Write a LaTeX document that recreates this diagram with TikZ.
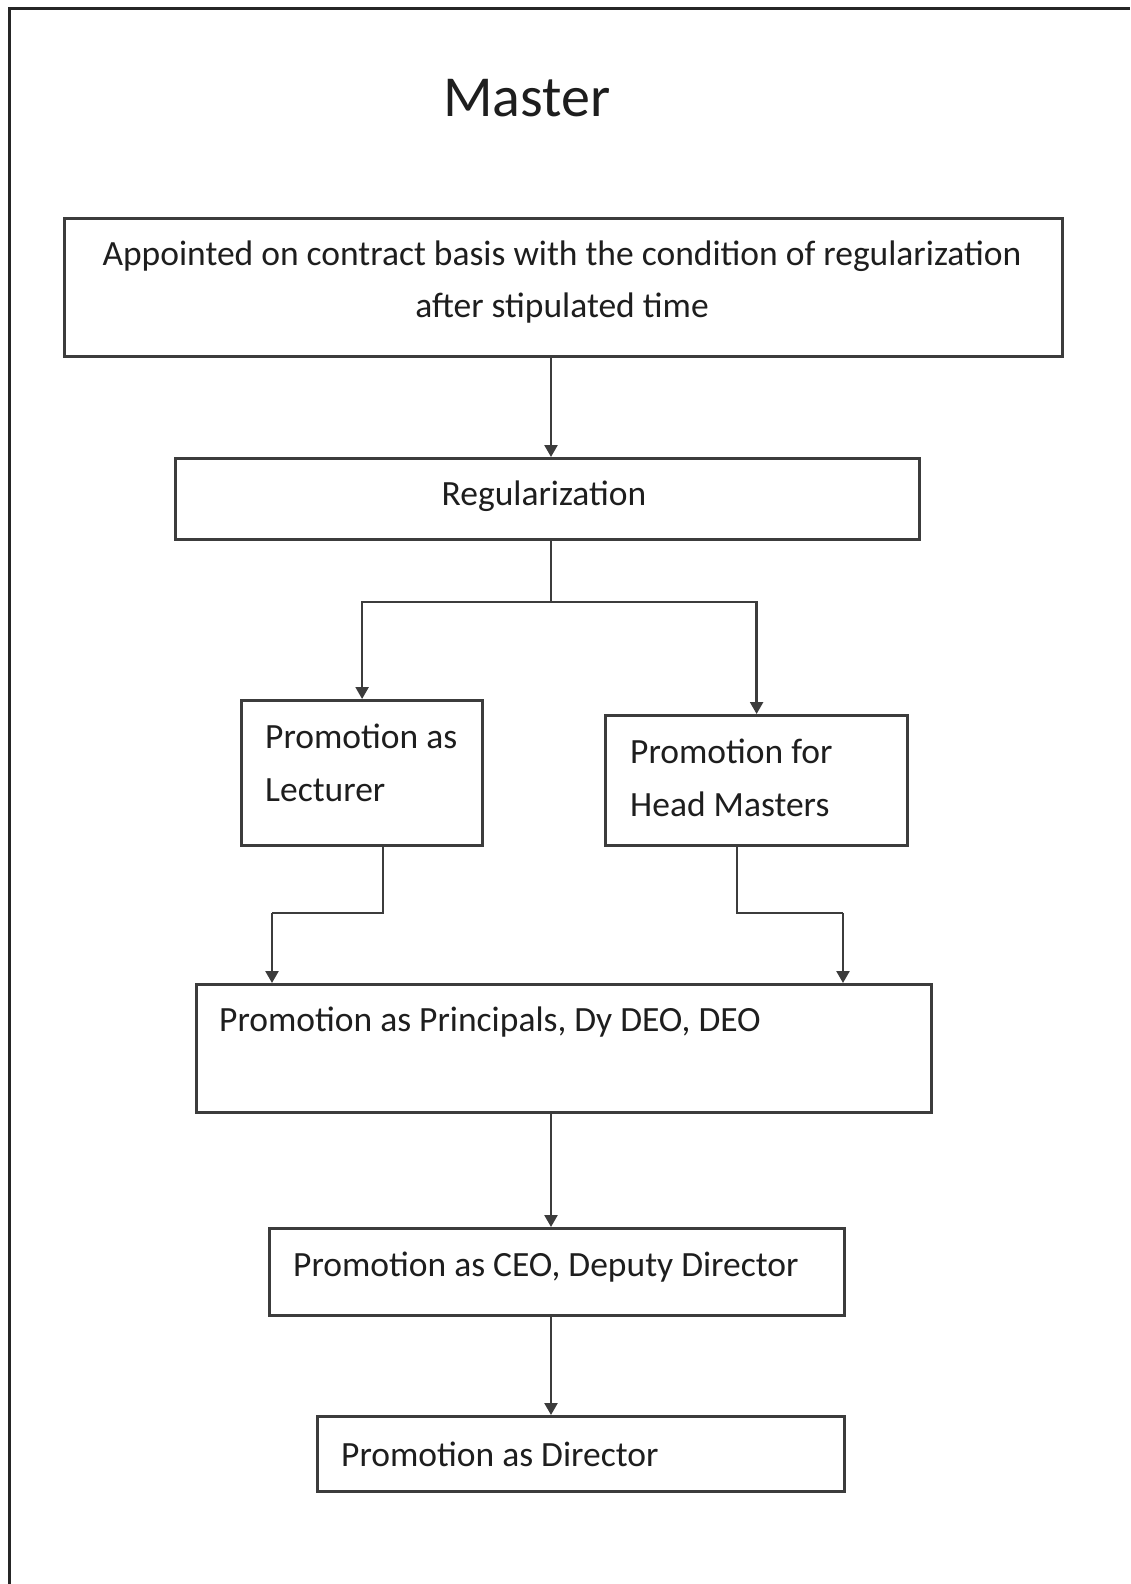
\documentclass[tikz,border=0pt]{standalone}
\usepackage{fontspec}
\setmainfont{Carlito}
\usetikzlibrary{arrows.meta}
\definecolor{boxline}{HTML}{3C3C3C}
\definecolor{txt}{HTML}{1E1E1E}
\tikzset{
  box/.style={draw=boxline, line width=3.2pt, fill=white, anchor=north west, inner sep=0pt},
  lbl/.style={font=\fontsize{35.5}{52.5}\selectfont, text=txt, inner sep=0pt},
  conn/.style={draw=boxline, line width=2.4pt},
  arr/.style={conn, -{Triangle[length=12pt,width=13pt]}},
}
\begin{document}
\begin{tikzpicture}[x=1pt,y=-1pt]
\useasboundingbox (0,0) rectangle (1130,1584);
\fill[white] (0,0) rectangle (1130,1584);
% outer frame (left and top edges only)
\coordinate (fl) at (9,1584);
\coordinate (fc) at (9,9);
\coordinate (fr) at (1130,9);
\draw[black!85, line width=3pt] (fl) -- (fc) -- (fr);

\node[font=\fontsize{58}{62}\selectfont, text=txt, inner sep=0pt] (title) at (527,98) {Master};

% boxes
\node[box, minimum width=998pt, minimum height=138pt] (b1) at (63,217) {};
\node[box, minimum width=744pt, minimum height=81pt]  (b2) at (174,457) {};
\node[box, minimum width=241pt, minimum height=145pt] (b3) at (240,699) {};
\node[box, minimum width=302pt, minimum height=130pt] (b4) at (604,714) {};
\node[box, minimum width=735pt, minimum height=128pt] (b5) at (195,983) {};
\node[box, minimum width=575pt, minimum height=87pt]  (b6) at (268,1227) {};
\node[box, minimum width=527pt, minimum height=75pt]  (b7) at (316,1415) {};

% texts
\node[lbl, align=center] (t1) at (562,282) {Appointed on contract basis with the condition of regularization\\after stipulated time};
\node[lbl] (t2) at (544,496) {Regularization};
\node[lbl, align=left, anchor=west] (t3) at (265,763) {Promotion as\\Lecturer};
\node[lbl, align=left, anchor=west] (t4) at (630,778) {Promotion for\\Head Masters};
\node[lbl, anchor=west] (t5) at (219,1022) {Promotion as Principals, Dy DEO, DEO};
\node[lbl, anchor=west] (t6) at (293,1267) {Promotion as CEO, Deputy Director};
\node[lbl, anchor=west] (t7) at (341,1454) {Promotion as Director};

% connectors
\coordinate (axis) at (551,0);
\coordinate (split) at (551,602);
\coordinate (l1) at (383,913);
\coordinate (l2) at (272,913);
\coordinate (h1) at (737,913);
\coordinate (h2) at (843,913);

\draw[arr] (b1.south -| axis) -- (b2.north -| axis);
\draw[conn] (b2.south -| axis) -- (split);
\draw[arr] (split) -| (b3.north);
\draw[arr] (split) -| (b4.north);
\draw[conn] (b3.south -| l1) -- (l1) -- (l2);
\draw[arr] (l2) -- (b5.north -| l2);
\draw[conn] (b4.south -| h1) -- (h1) -- (h2);
\draw[arr] (h2) -- (b5.north -| h2);
\draw[arr] (b5.south -| axis) -- (b6.north -| axis);
\draw[arr] (b6.south -| axis) -- (b7.north -| axis);
\end{tikzpicture}
\end{document}
